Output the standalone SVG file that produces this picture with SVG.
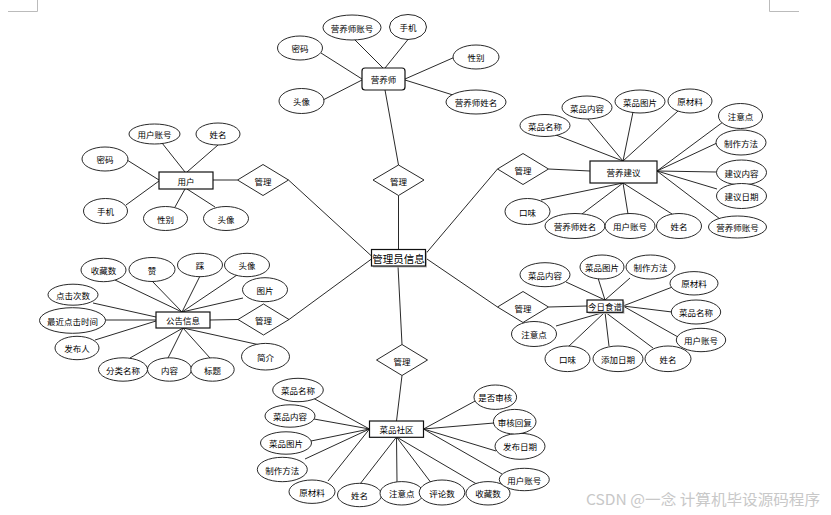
<svg xmlns="http://www.w3.org/2000/svg" width="831" height="515" viewBox="0 0 831 515">
<style>
.e{fill:#fff;stroke:#111;stroke-width:0.9}
.b{fill:#fff;stroke:#111;stroke-width:1.2}
.s{fill:#bbb;stroke:none}
.d{fill:#fff;stroke:#111;stroke-width:0.9}
.t{font-family:"Noto Sans CJK SC","Liberation Sans",sans-serif;font-size:8.5px;fill:#000;text-anchor:middle;dominant-baseline:central}
.tc{font-family:"Noto Sans CJK SC","Liberation Sans",sans-serif;font-size:10.5px;fill:#000;text-anchor:middle;dominant-baseline:central}
#connectors line{stroke:#111;stroke-width:0.9}
.corner{fill:none;stroke:#bbb;stroke-width:1}
.wm{font-family:"Noto Sans CJK SC","Liberation Sans",sans-serif;font-size:15px;fill:#c8c8c8}
</style>
<rect width="831" height="515" fill="#fff"/>
<path class="corner" d="M8,11.5 H37.5 V0 M769.5,0 V11.5 H799"/>
<g id="connectors">
<!-- center -->
<line x1="398.5" y1="195.5" x2="398.5" y2="249.5"/>
<line x1="288.5" y1="180" x2="371.5" y2="256"/>
<line x1="289" y1="319.5" x2="371.5" y2="259"/>
<line x1="497.5" y1="169" x2="425.5" y2="254"/>
<line x1="497.5" y1="307" x2="425.5" y2="258"/>
<line x1="402" y1="344.5" x2="398" y2="266"/>
<line x1="398.5" y1="165" x2="385" y2="90"/>
<line x1="402" y1="375.5" x2="396.5" y2="421"/>
<line x1="213" y1="180" x2="237.5" y2="180"/>
<line x1="210" y1="320" x2="238" y2="319.5"/>
<line x1="548.5" y1="169" x2="590" y2="171"/>
<line x1="548.5" y1="307" x2="587" y2="306"/>
<!-- nutritionist -->
<line x1="353" y1="38" x2="383" y2="68"/>
<line x1="410" y1="37" x2="385" y2="68"/>
<line x1="321" y1="53" x2="362" y2="79"/>
<line x1="323" y1="100" x2="362" y2="80"/>
<line x1="455" y1="57" x2="405" y2="79"/>
<line x1="453" y1="95" x2="405" y2="80"/>
<!-- user -->
<line x1="162" y1="143" x2="185" y2="172"/>
<line x1="218" y1="145" x2="187" y2="172"/>
<line x1="127" y1="160" x2="159" y2="180"/>
<line x1="126" y1="205" x2="159" y2="181"/>
<line x1="175" y1="207" x2="185" y2="189"/>
<line x1="215" y1="207" x2="187" y2="189"/>
<!-- advice -->
<line x1="556" y1="135" x2="623" y2="161"/>
<line x1="587" y1="118" x2="623" y2="161"/>
<line x1="633" y1="112" x2="623" y2="161"/>
<line x1="678" y1="111" x2="623" y2="161"/>
<line x1="723" y1="122" x2="657" y2="171"/>
<line x1="717" y1="143" x2="657" y2="171"/>
<line x1="716.5" y1="172" x2="657" y2="171"/>
<line x1="717" y1="189" x2="657" y2="171"/>
<line x1="720" y1="219" x2="657" y2="171"/>
<line x1="541" y1="200" x2="623" y2="183"/>
<line x1="582" y1="214" x2="623" y2="183"/>
<line x1="628" y1="214" x2="623" y2="183"/>
<line x1="672" y1="214" x2="623" y2="183"/>
<!-- notice -->
<line x1="115" y1="280" x2="182" y2="312"/>
<line x1="152" y1="281" x2="182" y2="312"/>
<line x1="200" y1="276" x2="182" y2="312"/>
<line x1="237" y1="275" x2="182" y2="312"/>
<line x1="243" y1="298" x2="182" y2="312"/>
<line x1="93" y1="303" x2="156" y2="317"/>
<line x1="105" y1="320" x2="156" y2="320"/>
<line x1="95" y1="340" x2="156" y2="321"/>
<line x1="130" y1="358" x2="183" y2="328"/>
<line x1="168" y1="358" x2="183" y2="328"/>
<line x1="210" y1="358" x2="183" y2="328"/>
<line x1="260" y1="345" x2="183" y2="328"/>
<!-- recipe -->
<line x1="566" y1="282" x2="605" y2="300"/>
<line x1="598" y1="278" x2="605" y2="300"/>
<line x1="630" y1="278" x2="605" y2="300"/>
<line x1="675" y1="286" x2="623" y2="306"/>
<line x1="672" y1="312" x2="623" y2="306"/>
<line x1="678" y1="337" x2="623" y2="306"/>
<line x1="653" y1="348" x2="605" y2="312"/>
<line x1="609" y1="346" x2="605" y2="312"/>
<line x1="568" y1="347" x2="605" y2="312"/>
<line x1="556" y1="326" x2="605" y2="312"/>
<!-- community -->
<line x1="313" y1="398" x2="369.5" y2="429"/>
<line x1="314" y1="419" x2="369.5" y2="429"/>
<line x1="311" y1="441" x2="369.5" y2="429"/>
<line x1="305" y1="459" x2="369.5" y2="429"/>
<line x1="328" y1="481" x2="369.5" y2="429"/>
<line x1="360" y1="484" x2="396.5" y2="437"/>
<line x1="397" y1="482" x2="396.5" y2="437"/>
<line x1="432" y1="484" x2="396.5" y2="437"/>
<line x1="480" y1="486" x2="396.5" y2="437"/>
<line x1="477" y1="400" x2="423.5" y2="429"/>
<line x1="494" y1="423" x2="423.5" y2="429"/>
<line x1="496" y1="451" x2="423.5" y2="429"/>
<line x1="502" y1="474" x2="423.5" y2="429"/>
</g>

<g id="admin">
<rect class="s" x="373" y="251" width="54" height="16.5"/>
<rect class="b" x="371.5" y="249.5" width="54" height="16.5"/>
<text class="tc" x="398.5" y="258">管理员信息</text>
</g>

<g id="rel-nutritionist">
<polygon class="d" points="373,180 398.5,165 424,180 398.5,195.5"/>
<text class="t" x="398.5" y="180.5">管理</text>
</g>
<g id="rel-user">
<polygon class="d" points="237.5,180 263,164.5 288.5,180 263,195.5"/>
<text class="t" x="263" y="180.5">管理</text>
</g>
<g id="rel-notice">
<polygon class="d" points="238,319.5 263.5,304 289,319.5 263.5,335"/>
<text class="t" x="263.5" y="320">管理</text>
</g>
<g id="rel-advice">
<polygon class="d" points="497.5,169 523,153.5 548.5,169 523,184.5"/>
<text class="t" x="523" y="169.5">管理</text>
</g>
<g id="rel-recipe">
<polygon class="d" points="497.5,307 523,291.5 548.5,307 523,322.5"/>
<text class="t" x="523" y="307.5">管理</text>
</g>
<g id="rel-community">
<polygon class="d" points="376.5,360 402,344.5 427.5,360 402,375.5"/>
<text class="t" x="402" y="360.5">管理</text>
</g>

<g id="nutritionist">
<rect class="b" x="362" y="68" width="43" height="22" rx="3"/>
<text class="t" x="383.5" y="79">营养师</text>
<ellipse class="e" cx="352" cy="27.5" rx="29" ry="12.5"/><text class="t" x="352" y="27.5">营养师账号</text>
<ellipse class="e" cx="408" cy="27" rx="18.5" ry="12.5"/><text class="t" x="408" y="27">手机</text>
<ellipse class="e" cx="300" cy="48" rx="22.5" ry="12"/><text class="t" x="300" y="48">密码</text>
<ellipse class="e" cx="476" cy="57" rx="23" ry="12"/><text class="t" x="476" y="57">性别</text>
<ellipse class="e" cx="301.5" cy="101" rx="22.5" ry="12.5"/><text class="t" x="301.5" y="101">头像</text>
<ellipse class="e" cx="476" cy="102" rx="30" ry="12"/><text class="t" x="476" y="102">营养师姓名</text>
</g>

<g id="user">
<rect class="b" x="159" y="172" width="54" height="17"/>
<text class="t" x="186" y="180.5">用户</text>
<ellipse class="e" cx="154.5" cy="134" rx="25.5" ry="10"/><text class="t" x="154.5" y="134">用户账号</text>
<ellipse class="e" cx="218" cy="134" rx="22" ry="11"/><text class="t" x="218" y="134">姓名</text>
<ellipse class="e" cx="105" cy="159" rx="23" ry="12"/><text class="t" x="105" y="159">密码</text>
<ellipse class="e" cx="105.5" cy="211" rx="22" ry="12.5"/><text class="t" x="105.5" y="211">手机</text>
<ellipse class="e" cx="165.5" cy="218.5" rx="22" ry="12"/><text class="t" x="165.5" y="218.5">性别</text>
<ellipse class="e" cx="226" cy="218.5" rx="22.5" ry="12"/><text class="t" x="226" y="218.5">头像</text>
</g>

<g id="advice">
<rect class="b" x="590" y="161" width="67" height="22"/>
<text class="t" x="623.5" y="172">营养建议</text>
<ellipse class="e" cx="545" cy="125.5" rx="25" ry="11"/><text class="t" x="545" y="125.5">菜品名称</text>
<ellipse class="e" cx="587" cy="107.5" rx="25" ry="11.5"/><text class="t" x="587" y="107.5">菜品内容</text>
<ellipse class="e" cx="640" cy="101.5" rx="25" ry="11.5"/><text class="t" x="640" y="101.5">菜品图片</text>
<ellipse class="e" cx="690" cy="101" rx="22" ry="12"/><text class="t" x="690" y="101">原材料</text>
<ellipse class="e" cx="740.5" cy="116" rx="22" ry="12.5"/><text class="t" x="740.5" y="116">注意点</text>
<ellipse class="e" cx="741" cy="142.5" rx="25" ry="12.5"/><text class="t" x="741" y="142.5">制作方法</text>
<ellipse class="e" cx="741.5" cy="172.5" rx="25" ry="12.5"/><text class="t" x="741.5" y="172.5">建议内容</text>
<ellipse class="e" cx="741.5" cy="196" rx="25" ry="12.5"/><text class="t" x="741.5" y="196">建议日期</text>
<ellipse class="e" cx="527.5" cy="211.5" rx="22.5" ry="13"/><text class="t" x="527.5" y="211.5">口味</text>
<ellipse class="e" cx="575" cy="226" rx="30" ry="12.5"/><text class="t" x="575" y="226">营养师姓名</text>
<ellipse class="e" cx="630" cy="226" rx="25" ry="12.5"/><text class="t" x="630" y="226">用户账号</text>
<ellipse class="e" cx="679" cy="226" rx="22.5" ry="12.5"/><text class="t" x="679" y="226">姓名</text>
<ellipse class="e" cx="737.5" cy="227" rx="29" ry="11"/><text class="t" x="737.5" y="227">营养师账号</text>
</g>

<g id="notice">
<rect class="b" x="156" y="312" width="54" height="16"/>
<text class="t" x="183" y="320">公告信息</text>
<ellipse class="e" cx="103.5" cy="270" rx="22.5" ry="11.7"/><text class="t" x="103.5" y="270">收藏数</text>
<ellipse class="e" cx="152" cy="269.5" rx="23" ry="12"/><text class="t" x="152" y="269.5">赞</text>
<ellipse class="e" cx="200" cy="265" rx="22.5" ry="11.7"/><text class="t" x="200" y="265">踩</text>
<ellipse class="e" cx="247" cy="265" rx="22.5" ry="11.7"/><text class="t" x="247" y="265">头像</text>
<ellipse class="e" cx="265" cy="289.7" rx="22.5" ry="12"/><text class="t" x="265" y="289.7">图片</text>
<ellipse class="e" cx="73" cy="294.7" rx="25" ry="10.5"/><text class="t" x="73" y="294.7">点击次数</text>
<ellipse class="e" cx="72.5" cy="320.5" rx="33" ry="12.8"/><text class="t" x="72.5" y="320.5">最近点击时间</text>
<ellipse class="e" cx="77" cy="348" rx="22" ry="11.7"/><text class="t" x="77" y="348">发布人</text>
<ellipse class="e" cx="123" cy="369.5" rx="24.5" ry="11.7"/><text class="t" x="123" y="369.5">分类名称</text>
<ellipse class="e" cx="169.5" cy="369.5" rx="22" ry="11.7"/><text class="t" x="169.5" y="369.5">内容</text>
<ellipse class="e" cx="212.5" cy="369.5" rx="21.7" ry="11.7"/><text class="t" x="212.5" y="369.5">标题</text>
<ellipse class="e" cx="265.5" cy="356.7" rx="24" ry="13.3"/><text class="t" x="265.5" y="356.7">简介</text>
</g>

<g id="recipe">
<rect class="s" x="588.5" y="301.5" width="36" height="12.3"/>
<rect class="b" x="587" y="300" width="36" height="12.3"/>
<text class="t" x="605" y="306.2">今日食谱</text>
<ellipse class="e" cx="545" cy="274.7" rx="25" ry="12"/><text class="t" x="545" y="274.7">菜品内容</text>
<ellipse class="e" cx="602" cy="267" rx="22" ry="12"/><text class="t" x="602" y="267">菜品图片</text>
<ellipse class="e" cx="650.5" cy="267" rx="24.5" ry="12"/><text class="t" x="650.5" y="267">制作方法</text>
<ellipse class="e" cx="694" cy="283.3" rx="24" ry="11.7"/><text class="t" x="694" y="283.3">原材料</text>
<ellipse class="e" cx="696" cy="312" rx="24.7" ry="12"/><text class="t" x="696" y="312">菜品名称</text>
<ellipse class="e" cx="701" cy="340" rx="24.7" ry="11.7"/><text class="t" x="701" y="340">用户账号</text>
<ellipse class="e" cx="534" cy="334" rx="22.5" ry="12.5"/><text class="t" x="534" y="334">注意点</text>
<ellipse class="e" cx="567.5" cy="358.8" rx="22.5" ry="12.8"/><text class="t" x="567.5" y="358.8">口味</text>
<ellipse class="e" cx="618" cy="358.8" rx="25" ry="12.8"/><text class="t" x="618" y="358.8">添加日期</text>
<ellipse class="e" cx="668" cy="358.8" rx="23" ry="12.8"/><text class="t" x="668" y="358.8">姓名</text>
</g>

<g id="community">
<rect class="b" x="369.5" y="421" width="54" height="16.3"/>
<text class="t" x="396.5" y="429.2">菜品社区</text>
<ellipse class="e" cx="298" cy="390" rx="25.3" ry="11.7"/><text class="t" x="298" y="390">菜品名称</text>
<ellipse class="e" cx="290" cy="416" rx="25" ry="11.2"/><text class="t" x="290" y="416">菜品内容</text>
<ellipse class="e" cx="286" cy="443" rx="25.5" ry="11.2"/><text class="t" x="286" y="443">菜品图片</text>
<ellipse class="e" cx="282.3" cy="469.5" rx="25" ry="12.2"/><text class="t" x="282.3" y="469.5">制作方法</text>
<ellipse class="e" cx="312" cy="491.7" rx="23" ry="11.7"/><text class="t" x="312" y="491.7">原材料</text>
<ellipse class="e" cx="359.5" cy="495" rx="22" ry="11.7"/><text class="t" x="359.5" y="495">姓名</text>
<ellipse class="e" cx="401.7" cy="493.3" rx="21.7" ry="11.7"/><text class="t" x="401.7" y="493.3">注意点</text>
<ellipse class="e" cx="442" cy="492.5" rx="22.8" ry="12.5"/><text class="t" x="442" y="492.5">评论数</text>
<ellipse class="e" cx="488" cy="493.3" rx="22" ry="11.7"/><text class="t" x="488" y="493.3">收藏数</text>
<ellipse class="e" cx="524.3" cy="479.5" rx="25" ry="11.2"/><text class="t" x="524.3" y="479.5">用户账号</text>
<ellipse class="e" cx="520" cy="446.3" rx="25" ry="13"/><text class="t" x="520" y="446.3">发布日期</text>
<ellipse class="e" cx="514.7" cy="421.7" rx="21.3" ry="12.3"/><text class="t" x="514.7" y="421.7">审核回复</text>
<ellipse class="e" cx="495.3" cy="397.2" rx="21.3" ry="12.2"/><text class="t" x="495.3" y="397.2">是否审核</text>
</g>

<text class="wm" x="586" y="505" textLength="234" lengthAdjust="spacingAndGlyphs">CSDN @一念 计算机毕设源码程序</text>
</svg>
